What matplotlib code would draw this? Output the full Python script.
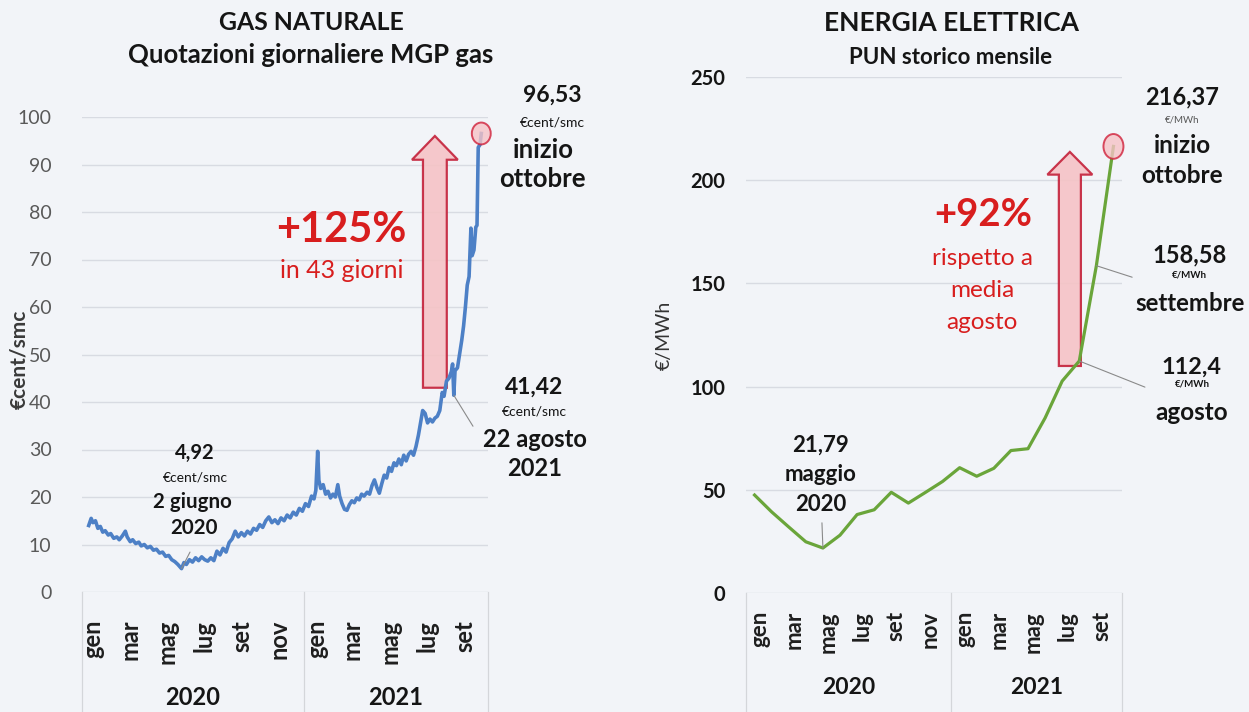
import matplotlib
matplotlib.use("Agg")
import matplotlib.pyplot as plt
import matplotlib.dates as mdates
from matplotlib.patches import FancyArrow, Ellipse
import numpy as np
import pandas as pd

plt.rcParams["font.family"] = ["Lato", "DejaVu Sans"]

# --- data ---
gas_dates = [
    "2020-01-02", "2020-01-06", "2020-01-09", "2020-01-13", "2020-01-17", "2020-01-21",
    "2020-01-25", "2020-01-29", "2020-02-03", "2020-02-07", "2020-02-12", "2020-02-17",
    "2020-02-21", "2020-02-26", "2020-03-02", "2020-03-05", "2020-03-10", "2020-03-14",
    "2020-03-19", "2020-03-24", "2020-03-28", "2020-04-02", "2020-04-07", "2020-04-12",
    "2020-04-17", "2020-04-22", "2020-04-27", "2020-05-02", "2020-05-07", "2020-05-12",
    "2020-05-17", "2020-05-22", "2020-05-27", "2020-06-02", "2020-06-06", "2020-06-10",
    "2020-06-15", "2020-06-20", "2020-06-25", "2020-06-30", "2020-07-05", "2020-07-10",
    "2020-07-15", "2020-07-20", "2020-07-25", "2020-07-30", "2020-08-04", "2020-08-09",
    "2020-08-14", "2020-08-19", "2020-08-24", "2020-08-29", "2020-09-03", "2020-09-08",
    "2020-09-13", "2020-09-18", "2020-09-23", "2020-09-28", "2020-10-03", "2020-10-08",
    "2020-10-13", "2020-10-18", "2020-10-23", "2020-10-28", "2020-11-02", "2020-11-07",
    "2020-11-12", "2020-11-17", "2020-11-22", "2020-11-27", "2020-12-02", "2020-12-07",
    "2020-12-12", "2020-12-17", "2020-12-22", "2020-12-27",
    "2021-01-01", "2021-01-05", "2021-01-08", "2021-01-11", "2021-01-13", "2021-01-16",
    "2021-01-20", "2021-01-24", "2021-01-28", "2021-02-01", "2021-02-05", "2021-02-09",
    "2021-02-13", "2021-02-16", "2021-02-20", "2021-02-24", "2021-02-28", "2021-03-04",
    "2021-03-08", "2021-03-12", "2021-03-16", "2021-03-20", "2021-03-24", "2021-03-28",
    "2021-04-02", "2021-04-06", "2021-04-10", "2021-04-14", "2021-04-18", "2021-04-22",
    "2021-04-26", "2021-04-30", "2021-05-04", "2021-05-08", "2021-05-12", "2021-05-16",
    "2021-05-20", "2021-05-24", "2021-05-28", "2021-06-01", "2021-06-05", "2021-06-09",
    "2021-06-13", "2021-06-17", "2021-06-21", "2021-06-25", "2021-06-29", "2021-07-02",
    "2021-07-06", "2021-07-10", "2021-07-14", "2021-07-18", "2021-07-22", "2021-07-26",
    "2021-07-30", "2021-08-03", "2021-08-06", "2021-08-10", "2021-08-14", "2021-08-18",
    "2021-08-20", "2021-08-22", "2021-08-24", "2021-08-28", "2021-09-01", "2021-09-04",
    "2021-09-07", "2021-09-10", "2021-09-13", "2021-09-16", "2021-09-19", "2021-09-21",
    "2021-09-24", "2021-09-27", "2021-09-29", "2021-10-01", "2021-10-04", "2021-10-06",
]
gas_values = [
    14.0, 15.5, 14.6, 15.0, 13.4, 13.8,
    12.6, 12.9, 12.0, 12.3, 11.3, 11.6,
    11.0, 11.8, 12.8, 11.6, 10.6, 11.0,
    10.2, 10.5, 9.7, 10.0, 9.3, 9.6,
    8.8, 9.0, 8.2, 8.4, 7.5, 7.7,
    6.8, 6.4, 5.8, 4.92, 6.2, 5.8,
    6.8, 6.3, 7.2, 6.6, 7.4, 6.8,
    6.5, 7.2, 6.6, 8.6, 7.8, 9.2,
    8.4, 10.4, 11.2, 12.8, 11.6, 12.5,
    11.8, 12.8, 12.2, 13.4, 13.0, 14.2,
    13.6, 15.0, 15.8, 14.6, 15.2, 14.4,
    15.6, 15.0, 16.2, 15.6, 16.8, 16.2,
    17.6, 17.0, 18.6, 18.0,
    20.2, 19.6, 21.4, 29.6, 23.5, 21.8,
    22.6, 20.6, 21.2, 19.8, 20.6, 20.0,
    22.6, 20.2, 18.6, 17.4, 17.2, 18.4,
    19.2, 18.8, 19.8, 19.4, 20.6, 20.2,
    21.0, 20.6, 22.4, 23.6, 22.0, 20.8,
    22.8, 24.6, 24.0, 26.2, 25.4, 27.2,
    26.6, 28.0, 26.8, 28.8, 27.6, 29.0,
    29.6, 28.8, 30.6, 33.0, 36.0, 38.2,
    37.6, 35.6, 36.4, 35.8, 36.6, 37.0,
    38.2, 42.0, 41.2, 44.4, 45.0, 46.4,
    48.0, 41.42, 46.6, 47.2, 50.5, 53.0,
    56.0, 60.0, 64.6, 66.4, 76.6, 70.8,
    72.0, 76.8, 77.2, 93.6, 94.2, 96.53,
]

pun_values = [47.47, 39.30, 31.99, 24.81, 21.79, 28.01, 38.01, 40.32, 48.80, 43.57,
              48.75, 54.03, 60.71, 56.57, 60.41, 69.02, 69.91, 84.80, 102.68, 112.40,
              158.58, 216.37]

month_labels = ["gen", "mar", "mag", "lug", "set", "nov", "gen", "mar", "mag", "lug", "set"]
year_labels = ["2020", "2021"]

BG = "#f2f4f8"
RED = "#d81e1e"
GRID = "#d8dbe2"

fig = plt.figure(figsize=(12.49, 7.12), dpi=100, facecolor=BG)


def note(ax, fx, fy, s, size, weight="bold", color="#151515"):
    ax.text(fx, fy, s, transform=ax.transAxes, ha="center", va="center",
            fontsize=size, fontweight=weight, color=color)


def box_lines(ax, edges, bottom):
    tr = ax.get_xaxis_transform()
    for e in edges:
        ax.plot([e, e], [0, bottom], transform=tr, color="#d4d6da", lw=0.9, clip_on=False)


# ---------------- GAS NATURALE ----------------
ax1 = fig.add_axes([82 / 1249, 1 - 592 / 712, 406 / 1249, 475 / 712])
ax1.set_facecolor("none")
x_gas = mdates.date2num(pd.to_datetime(gas_dates))
ax1.plot(x_gas, gas_values, color="#4d80c6", lw=2.6, solid_joinstyle="round", zorder=3)

left_edges = mdates.date2num(pd.to_datetime(["2019-12-22", "2020-12-19", "2021-10-17"]))
ax1.set_xlim(left_edges[0], left_edges[-1])
ax1.set_ylim(0, 100)
ax1.set_yticks(range(0, 101, 10))
ax1.grid(axis="y", color=GRID, lw=1)
for s in ax1.spines.values():
    s.set_visible(False)
ax1.tick_params(axis="y", length=0, pad=22, labelsize=14, labelcolor="#595959")

tick_dates = mdates.date2num(pd.date_range("2020-01-01", "2021-09-01", freq="2MS")) + 8
ax1.set_xticks(tick_dates)
ax1.set_xticklabels(month_labels, rotation=90, fontsize=17, fontweight="bold", color="#1e1e1e")
ax1.tick_params(axis="x", length=0, pad=20)

ax1.set_ylabel("€cent/smc", fontsize=15, fontweight="bold", color="#3a3a3a")
ax1.yaxis.set_label_coords(-0.13, 0.49)

box_lines(ax1, left_edges, -0.26)
for i, yl in enumerate(year_labels):
    ax1.text((left_edges[i] + left_edges[i + 1]) / 2, -0.222, yl, transform=ax1.get_xaxis_transform(),
             ha="center", va="center", fontsize=17, fontweight="bold", color="#151515")

# red arrow and circle
xa = mdates.date2num(pd.Timestamp("2021-07-22"))
ax1.add_patch(FancyArrow(xa, 43, 0, 96 - 43, width=39, head_width=75, head_length=5,
                         length_includes_head=True, fc="#f6c3c6", ec="#c4213a", lw=1.6,
                         alpha=0.9, zorder=2))
ax1.add_patch(Ellipse((x_gas[-1], gas_values[-1]), width=31, height=4.6, fc="#f6c3c6",
                      ec="#d0203a", lw=1.4, alpha=0.8, zorder=4, clip_on=False))

fig.text(311 / 1249, 1 - 23 / 712, "GAS NATURALE", ha="center", va="center",
         fontsize=17.8, fontweight="bold", color="#151515")
fig.text(311 / 1249, 1 - 55 / 712, "Quotazioni giornaliere MGP gas", ha="center", va="center",
         fontsize=18.5, fontweight="bold", color="#151515")

note(ax1, 1.158, 1.046, "96,53", 16.5)
note(ax1, 1.158, 0.989, "€cent/smc", 10, weight="normal")
note(ax1, 1.135, 0.931, "inizio", 18.5)
note(ax1, 1.135, 0.870, "ottobre", 18.5)
note(ax1, 1.113, 0.432, "41,42", 16.5)
note(ax1, 1.113, 0.379, "€cent/smc", 10, weight="normal")
note(ax1, 1.116, 0.322, "22 agosto", 17)
note(ax1, 1.116, 0.259, "2021", 17)
note(ax1, 0.278, 0.293, "4,92", 14.5)
note(ax1, 0.278, 0.242, "€cent/smc", 10, weight="normal")
note(ax1, 0.271, 0.189, "2 giugno", 14.8)
note(ax1, 0.276, 0.135, "2020", 14.8)
note(ax1, 0.638, 0.762, "+125%", 30, color=RED)
note(ax1, 0.640, 0.676, "in 43 giorni", 18, weight="normal", color=RED)

i_min = gas_values.index(min(gas_values))
i_aug = gas_dates.index("2021-08-22")
for i, end in [(i_min, (0.266, 0.084)), (i_aug, (0.963, 0.349))]:
    ax1.annotate("", xy=(x_gas[i], gas_values[i]), xytext=end, textcoords="axes fraction",
                 arrowprops=dict(arrowstyle="-", color="#8a8a8a", lw=0.8, shrinkA=0, shrinkB=0))

# ---------------- ENERGIA ELETTRICA ----------------
ax2 = fig.add_axes([746 / 1249, 1 - 593 / 712, 376 / 1249, 516 / 712])
ax2.set_facecolor("none")
x_pun = np.arange(len(pun_values))
ax2.plot(x_pun, pun_values, color="#6aa53a", lw=2.3, solid_joinstyle="round", zorder=3)
ax2.set_xlim(-0.5, len(pun_values) - 0.5)
ax2.set_ylim(0, 250)
ax2.set_yticks(range(0, 251, 50))
ax2.grid(axis="y", color=GRID, lw=1)
for s in ax2.spines.values():
    s.set_visible(False)
ax2.tick_params(axis="y", length=0, pad=15, labelsize=14.5, labelcolor="#151515")
for t in ax2.get_yticklabels():
    t.set_fontweight("bold")

ax2.set_xticks(np.arange(0, 21, 2) + 0.3)
ax2.set_xticklabels(month_labels, rotation=90, fontsize=16, fontweight="bold", color="#1e1e1e")
ax2.tick_params(axis="x", length=0, pad=13)

ax2.set_ylabel("€/MWh", fontsize=14, color="#333333")
ax2.yaxis.set_label_coords(-0.194, 0.5)

right_edges = [-0.5, 11.5, len(pun_values) - 0.5]
box_lines(ax2, right_edges, -0.235)
for i, yl in enumerate(year_labels):
    ax2.text((right_edges[i] + right_edges[i + 1]) / 2, -0.184, yl, transform=ax2.get_xaxis_transform(),
             ha="center", va="center", fontsize=16.5, fontweight="bold", color="#151515")

ax2.add_patch(FancyArrow(18.45, 110, 0, 213.7 - 110, width=1.29, head_width=2.63, head_length=11,
                         length_includes_head=True, fc="#f6c3c6", ec="#c4213a", lw=1.6,
                         alpha=0.9, zorder=2))
ax2.add_patch(Ellipse((x_pun[-1], pun_values[-1]), width=1.17, height=12, fc="#f6c3c6",
                      ec="#d0203a", lw=1.4, alpha=0.8, zorder=4, clip_on=False))

fig.text(951 / 1249, 1 - 23 / 712, "ENERGIA ELETTRICA", ha="center", va="center",
         fontsize=19, fontweight="bold", color="#151515")
fig.text(951 / 1249, 1 - 58 / 712, "PUN storico mensile", ha="center", va="center",
         fontsize=16, fontweight="bold", color="#151515")

note(ax2, 1.160, 0.961, "216,37", 17)
note(ax2, 1.160, 0.917, "€/MWh", 7, weight="normal", color="#555555")
note(ax2, 1.160, 0.868, "inizio", 17.5)
note(ax2, 1.160, 0.810, "ottobre", 17.5)
note(ax2, 1.180, 0.655, "158,58", 17)
note(ax2, 1.180, 0.616, "€/MWh", 7)
note(ax2, 1.180, 0.562, "settembre", 17.3)
note(ax2, 1.186, 0.438, "112,4", 16.8)
note(ax2, 1.186, 0.405, "€/MWh", 7)
note(ax2, 1.186, 0.349, "agosto", 17.5)
note(ax2, 0.199, 0.287, "21,79", 16)
note(ax2, 0.199, 0.229, "maggio", 16)
note(ax2, 0.199, 0.171, "2020", 16)
note(ax2, 0.630, 0.733, "+92%", 27.5, color=RED)
note(ax2, 0.628, 0.649, "rispetto a", 17.5, weight="normal", color=RED)
note(ax2, 0.628, 0.587, "media", 17.5, weight="normal", color=RED)
note(ax2, 0.628, 0.525, "agosto", 17.5, weight="normal", color=RED)

for i, end in [(4, (0.202, 0.136)), (20, (1.027, 0.612)), (19, (1.061, 0.399))]:
    ax2.annotate("", xy=(x_pun[i], pun_values[i]), xytext=end, textcoords="axes fraction",
                 arrowprops=dict(arrowstyle="-", color="#8a8a8a", lw=0.8, shrinkA=0, shrinkB=0))

fig.savefig("out.png", dpi=100, facecolor=BG)
